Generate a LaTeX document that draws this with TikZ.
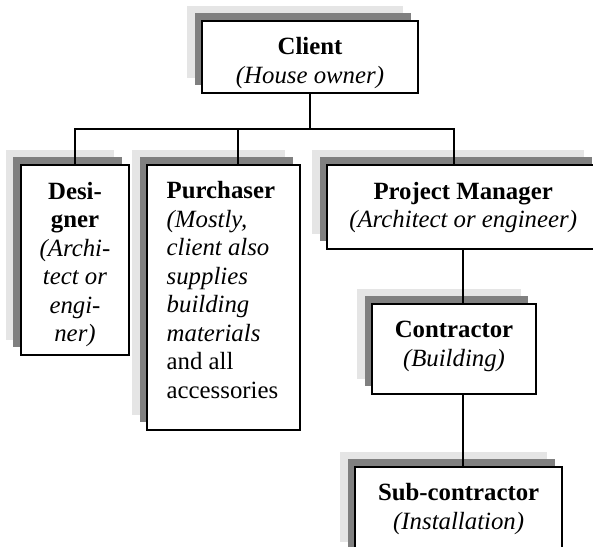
\documentclass[tikz,border=0pt]{standalone}
\usepackage{fontspec}
\setmainfont{Liberation Serif}
\usetikzlibrary{calc,shadows}

\definecolor{shadelight}{gray}{0.9}
\definecolor{shadedark}{gray}{0.5}

\tikzstyle{orgbox}=[draw, fill=white, line width=1pt, inner sep=0pt, outer sep=0pt, anchor=north west,
  general shadow={draw=none, fill=shadelight, shadow xshift=-7.5pt, shadow yshift=7.5pt},
  general shadow={draw=none, fill=shadedark, shadow xshift=-3.75pt, shadow yshift=4pt}]
\tikzstyle{link}=[line width=0.8pt]

% width, height, alignment, lines
\newcommand{\boxbody}[4]{\parbox[c][#2][t]{#1}{#3\vspace*{7pt}\strut #4}}

\begin{document}
\begin{tikzpicture}[x=0.5pt, y=-0.5pt, font=\fontsize{12.4}{14.25}\selectfont]
            \useasboundingbox (0,0) rectangle (593,546);
            \clip (0,0) rectangle (593,546);
            \node[orgbox] at (202,21) (Cl) {\boxbody{108pt}{36pt}{\centering}{\textbf{Client}\\\textit{(House owner)}}};
            \node[orgbox] at (20.7,165.3) (D) {\boxbody{54.3pt}{95pt}{\centering}{\textbf{Desi-}\\\textbf{gner}\\\textit{(Archi-}\\\textit{tect or}\\\textit{engi-}\\\textit{ner)}}};
            \node[orgbox] at (147,165) (Pu) {\boxbody{76.65pt}{132.5pt}{\raggedright\leftskip=9.85pt}{\textbf{Purchaser}\\\textit{(Mostly,}\\\textit{client also}\\\textit{supplies}\\\textit{building}\\\textit{materials}\\and all\\accessories}};
            \node[orgbox] at (327.3,165.3) (PM) {\boxbody{135.85pt}{42pt}{\centering}{\textbf{Project Manager}\\\textit{(Architect or engineer)}}};
            \node[orgbox] at (372.3,303.7) (Co) {\boxbody{81.7pt}{45.15pt}{\centering}{\textbf{Contractor}\\\textit{(Building)}}};
            \node[orgbox] at (355,466.7) (Sub) {\boxbody{103.65pt}{45pt}{\centering}{\textbf{Sub-contractor}\\\textit{(Installation)}}};
            % tree lines
            \coordinate (bus) at (0,129);
            \coordinate (PuTop) at ($(Pu.north west)+(90.7,0)$);
            \coordinate (PMTop) at ($(PM.north west)+(126.7,0)$);
            \draw[link] (Cl.south) -- (Cl.south |- bus);
            \draw[link] (D.north) -- (D.north |- bus) -| (PMTop);
            \draw[link] (PuTop) -- (PuTop |- bus);
            \draw[link] (PM.south) -- (PM.south |- Co.north);
            \draw[link] (PM.south |- Co.south) -- (PM.south |- Sub.north);
        \end{tikzpicture}
\end{document}
